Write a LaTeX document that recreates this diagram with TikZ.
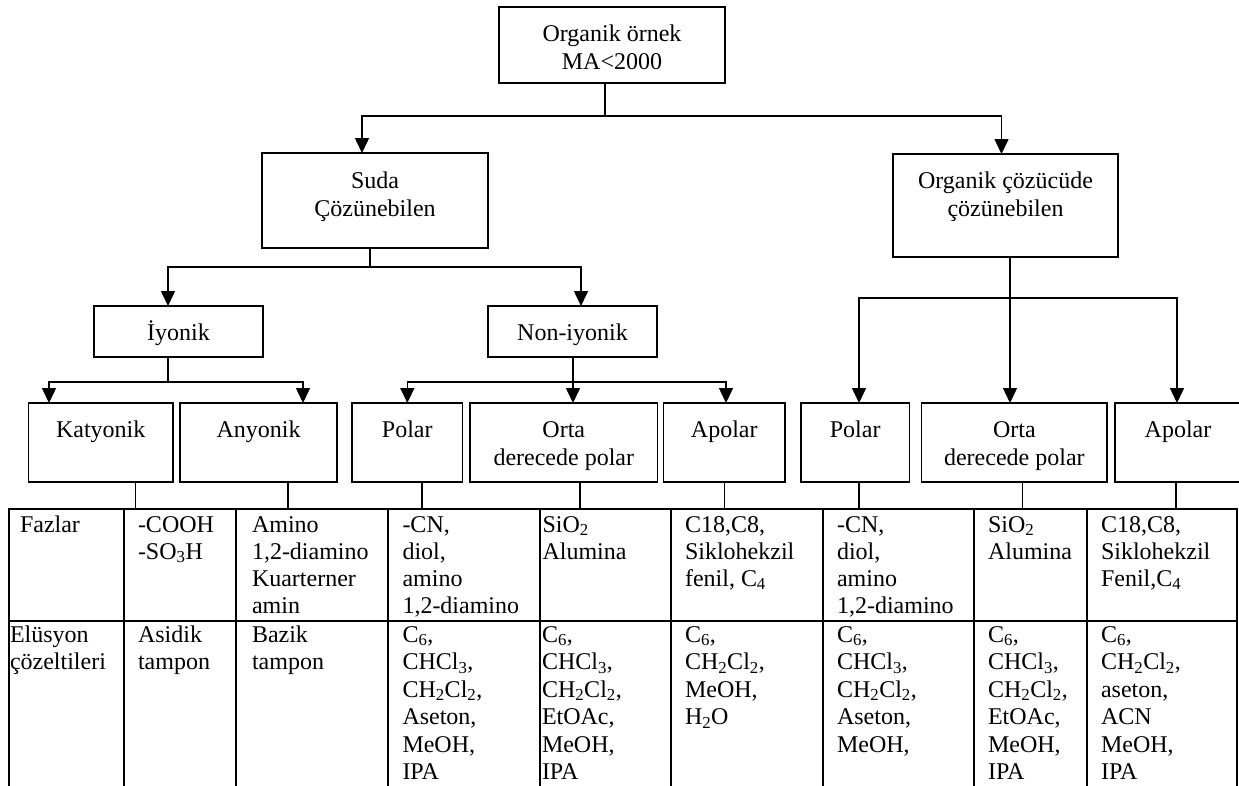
\documentclass[tikz,border=0pt]{standalone}
\usepackage{fontspec}
\setmainfont{Liberation Serif}
\usetikzlibrary{arrows.meta}
\newcommand{\cellL}[1]{\vtop{\let\\\cr\halign{##\hfil\cr#1\crcr}}}
\newcommand{\cellC}[1]{\vtop{\let\\\cr\halign{\hfil##\hfil\cr#1\crcr}}}
\newcommand{\sub}[1]{\textsubscript{#1}}
\begin{document}
\begin{tikzpicture}[x=1pt,y=-1pt,
  every node/.style={font=\fontsize{24}{28}\selectfont, inner sep=0pt, outer sep=0pt},
  box/.style={draw, line width=1.3pt},
  ln/.style={line width=1.5pt},
  arr/.style={line width=1.5pt, -{Triangle[length=15pt,width=14pt]}},
  tbl/.style={line width=2pt},
  txt/.style={anchor=base},
  rowA/.style={anchor=base west, font=\fontsize{24}{27}\selectfont},
  rowB/.style={anchor=base west, font=\fontsize{24}{27.5}\selectfont}
]
\useasboundingbox (0,0) rectangle (1239,785);

% boxes
\node[box, minimum width=226pt, minimum height=76pt] (top) at (612,45) {};
\node[box, minimum width=226pt, minimum height=95pt] (suda) at (375,200.5) {};
\node[box, minimum width=225pt, minimum height=103pt] (orgcoz) at (1005.5,205.5) {};
\node[box, minimum width=169pt, minimum height=51pt] (iyon) at (178.5,331.5) {};
\node[box, minimum width=169pt, minimum height=51pt] (noniyon) at (572.5,331.5) {};
\node[box, minimum width=144.5pt, minimum height=79pt] (kat) at (100.75,442.5) {};
\node[box, minimum width=157pt, minimum height=79pt] (any) at (258.5,442.5) {};
\node[box, minimum width=110.6pt, minimum height=79pt] (pol1) at (407.3,442.5) {};
\node[box, minimum width=187.6pt, minimum height=79pt] (orta1) at (563.8,442.5) {};
\node[box, minimum width=121.5pt, minimum height=79pt] (apol1) at (724.25,442.5) {};
\node[box, minimum width=108.4pt, minimum height=79pt] (pol2) at (855.2,442.5) {};
\node[box, minimum width=185.3pt, minimum height=79pt] (orta2) at (1014.35,442.5) {};
\node[box, minimum width=127pt, minimum height=79pt] (apol2) at (1178.5,442.5) {};

% box texts
\node[txt] (topT) at (612,41) {\cellC{Organik örnek\\MA<2000}};
\node[txt] (sudaT) at (375,188) {\cellC{Suda\\Çözünebilen}};
\node[txt] (orgcozT) at (1005.5,188) {\cellC{Organik çözücüde\\çözünebilen}};
\node[txt] (iyonT) at (178.5,340) {İyonik};
\node[txt] (noniyonT) at (572.5,340) {Non-iyonik};
\node[txt] (katT) at (100.75,437) {Katyonik};
\node[txt] (anyT) at (258.5,437) {Anyonik};
\node[txt] (pol1T) at (407.3,437) {Polar};
\node[txt] (orta1T) at (563.8,437) {\cellC{Orta\\derecede polar}};
\node[txt] (apol1T) at (724.25,437) {Apolar};
\node[txt] (pol2T) at (855.2,437) {Polar};
\node[txt] (orta2T) at (1014.35,437) {\cellC{Orta\\derecede polar}};
\node[txt] (apol2T) at (1178,437) {Apolar};

% junctions
\coordinate (j1) at (605,116);
\coordinate (j2) at (370,267);
\coordinate (j3) at (168,382);
\coordinate (j4) at (573,382);
\coordinate (j5) at (1010,298);

% connectors
\draw[ln] (j1 |- top.south) -- (j1);
\draw[arr] (j1) -| ([xshift=-13pt]suda.north);
\draw[arr] (j1) -| ([xshift=-4pt]orgcoz.north);

\draw[ln] (j2 |- suda.south) -- (j2);
\draw[arr] (j2) -| ([xshift=-10.5pt]iyon.north);
\draw[arr] (j2) -| ([xshift=8.5pt]noniyon.north);

\draw[ln] (j3 |- iyon.south) -- (j3);
\draw[arr] (j3) -| ([xshift=-51.75pt]kat.north);
\draw[arr] (j3) -| ([xshift=44.5pt]any.north);

\draw[ln] (j4 |- noniyon.south) -- (j4);
\draw[arr] (j4) -| (pol1.north);
\draw[arr] (j4) -- (j4 |- orta1.north);
\draw[arr] (j4) -| ([xshift=1.75pt]apol1.north);

\draw[ln] (j5 |- orgcoz.south) -- (j5);
\draw[arr] (j5) -| ([xshift=3.8pt]pol2.north);
\draw[arr] (j5) -- (j5 |- orta2.north);
\draw[arr] (j5) -| ([xshift=-1.5pt]apol2.north);

% lines from boxes to table
\coordinate (t1) at (135.6,509);
\coordinate (t2) at (288,509);
\coordinate (t3) at (422,509);
\coordinate (t4) at (580,509);
\coordinate (t5) at (724.6,509);
\coordinate (t6) at (859,509);
\coordinate (t7) at (1022.7,509);
\coordinate (t8) at (1176,509);
\draw[ln] (t1 |- kat.south) -- (t1);
\draw[ln] (t2 |- any.south) -- (t2);
\draw[ln] (t3 |- pol1.south) -- (t3);
\draw[ln] (t4 |- orta1.south) -- (t4);
\draw[ln] (t5 |- apol1.south) -- (t5);
\draw[ln] (t6 |- pol2.south) -- (t6);
\draw[ln] (t7 |- orta2.south) -- (t7);
\draw[ln] (t8 |- apol2.south) -- (t8);

% table grid
\draw[tbl] (8,509) -- (1238,509);
\draw[tbl] (8,621) -- (1238,621);
\foreach \cx in {9,124,236,388,540,671,823,974,1087,1237}
  \draw[tbl] (\cx,508) -- (\cx,790);

% table row 1 (Fazlar)
\node[rowA] (f0) at (20,532) {Fazlar};
\node[rowA] (f1) at (138,532) {\cellL{-COOH\\-SO\sub{3}H}};
\node[rowA] (f2) at (252,532) {\cellL{Amino\\1,2-diamino\\Kuarterner\\amin}};
\node[rowA] (f3) at (402.5,532) {\cellL{-CN,\\diol,\\amino\\1,2-diamino}};
\node[rowA] (f4) at (542.5,532) {\cellL{SiO\sub{2}\\Alumina}};
\node[rowA] (f5) at (685,532) {\cellL{C18,C8,\\Siklohekzil\\fenil, C\sub{4}}};
\node[rowA] (f6) at (837,532) {\cellL{-CN,\\diol,\\amino\\1,2-diamino}};
\node[rowA] (f7) at (988,532) {\cellL{SiO\sub{2}\\Alumina}};
\node[rowA] (f8) at (1101,532) {\cellL{C18,C8,\\Siklohekzil\\Fenil,C\sub{4}}};

% table row 2 (Elusyon)
\node[rowB] (e0) at (10,642) {\cellL{Elüsyon\\çözeltileri}};
\node[rowB] (e1) at (138,642) {\cellL{Asidik\\tampon}};
\node[rowB] (e2) at (252,642) {\cellL{Bazik\\tampon}};
\node[rowB] (e3) at (402.5,642) {\cellL{C\sub{6},\\CHCl\sub{3},\\CH\sub{2}Cl\sub{2},\\Aseton,\\MeOH,\\IPA}};
\node[rowB] (e4) at (542,642) {\cellL{C\sub{6},\\CHCl\sub{3},\\CH\sub{2}Cl\sub{2},\\EtOAc,\\MeOH,\\IPA}};
\node[rowB] (e5) at (685,642) {\cellL{C\sub{6},\\CH\sub{2}Cl\sub{2},\\MeOH,\\H\sub{2}O}};
\node[rowB] (e6) at (837,642) {\cellL{C\sub{6},\\CHCl\sub{3},\\CH\sub{2}Cl\sub{2},\\Aseton,\\MeOH,}};
\node[rowB] (e7) at (988,642) {\cellL{C\sub{6},\\CHCl\sub{3},\\CH\sub{2}Cl\sub{2},\\EtOAc,\\MeOH,\\IPA}};
\node[rowB] (e8) at (1101,642) {\cellL{C\sub{6},\\CH\sub{2}Cl\sub{2},\\aseton,\\ACN\\MeOH,\\IPA}};
\end{tikzpicture}
\end{document}
